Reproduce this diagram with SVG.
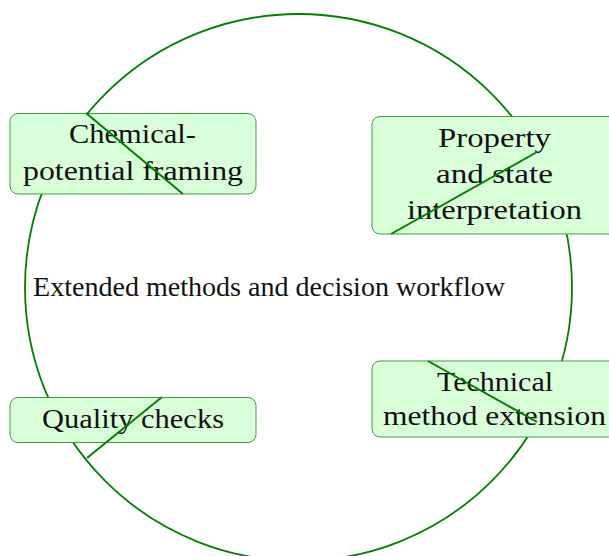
<svg xmlns="http://www.w3.org/2000/svg" width="609" height="556" viewBox="0 0 609 556">
<style>
.box{fill:#d9ffd9;stroke:#3a9f3a;stroke-width:1}
.t{font-family:"Liberation Serif","DejaVu Serif",serif;font-size:27px;fill:#111111;text-anchor:middle}
.ring{fill:none;stroke:#008000;stroke-width:1.8}
.edge{stroke:#008000;stroke-width:2;fill:none}
</style>
<rect width="609" height="556" fill="#ffffff"/>
<g id="main">
<circle class="ring" cx="298.5" cy="287.5" r="273.5"/>
<text class="t" x="269" y="296" textLength="472" lengthAdjust="spacingAndGlyphs">Extended methods and decision workflow</text>
</g>
<g id="chemical">
<rect class="box" x="10" y="113.5" width="246" height="80.5" rx="8"/>
<text class="t" x="132.5" y="143" textLength="127" lengthAdjust="spacingAndGlyphs">Chemical-</text>
<text class="t" x="133" y="180" textLength="220" lengthAdjust="spacingAndGlyphs">potential framing</text>
</g>
<g id="property">
<rect class="box" x="372" y="116.5" width="246" height="117.5" rx="8"/>
<text class="t" x="494.5" y="147" textLength="113" lengthAdjust="spacingAndGlyphs">Property</text>
<text class="t" x="494.5" y="183" textLength="117" lengthAdjust="spacingAndGlyphs">and state</text>
<text class="t" x="494.5" y="218.5" textLength="175" lengthAdjust="spacingAndGlyphs">interpretation</text>
</g>
<g id="quality">
<rect class="box" x="10" y="397.5" width="246" height="45" rx="8"/>
<text class="t" x="133" y="427.5" textLength="182" lengthAdjust="spacingAndGlyphs">Quality checks</text>
</g>
<g id="technical">
<rect class="box" x="372" y="361" width="246" height="76" rx="8"/>
<text class="t" x="495" y="390.5" textLength="116" lengthAdjust="spacingAndGlyphs">Technical</text>
<text class="t" x="494.5" y="425" textLength="223" lengthAdjust="spacingAndGlyphs">method extension</text>
</g>
<g id="connectors">
<line class="edge" x1="86" y1="113" x2="183" y2="194"/>
<line class="edge" x1="391" y1="234" x2="537" y2="152"/>
<line class="edge" x1="87" y1="458" x2="162" y2="397"/>
<line class="edge" x1="428" y1="361" x2="537" y2="422"/>
</g>
</svg>
